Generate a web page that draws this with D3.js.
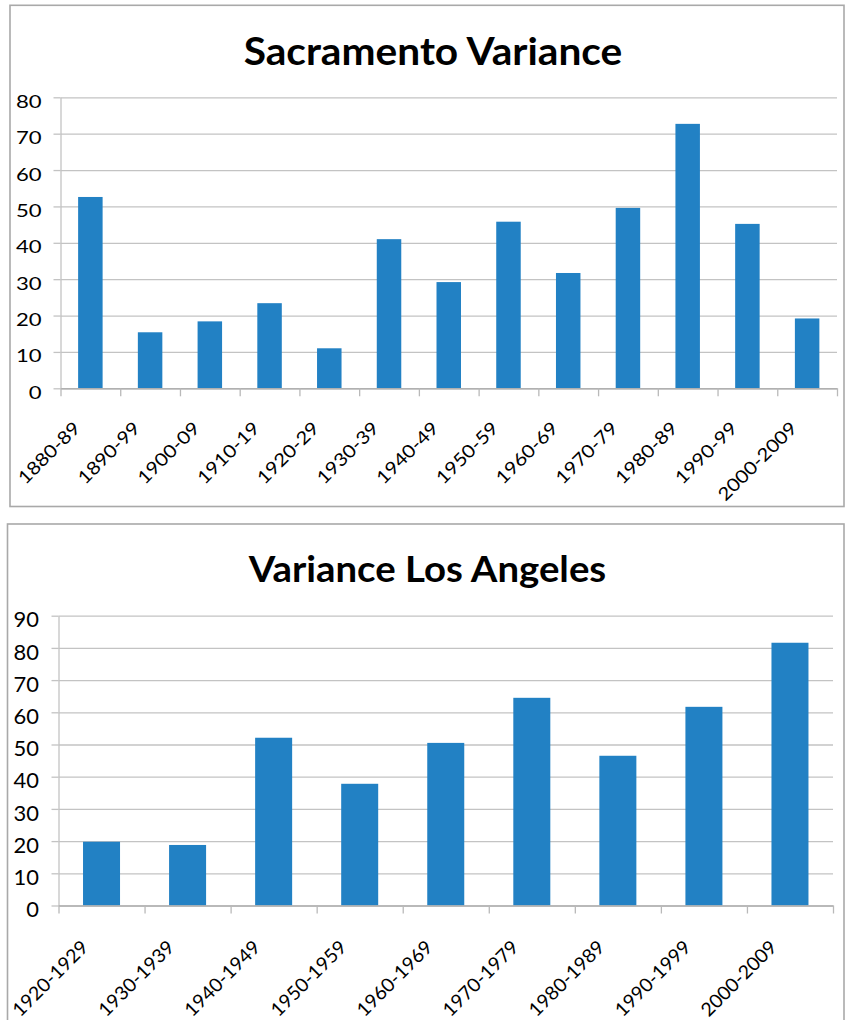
<!DOCTYPE html>
<html>
<head>
<meta charset="utf-8">
<script src="https://cdn.jsdelivr.net/npm/d3@7"></script>
<style>
	body { margin: 0; background: #fff; }
	svg { display: block; }
</style>
</head>
<body>
<div id="chart"></div>
<script>
/*global d3*/

//Sacramento data
var sacCategories = ["1880-89", "1890-99", "1900-09", "1910-19", "1920-29", "1930-39", "1940-49",
	"1950-59", "1960-69", "1970-79", "1980-89", "1990-99", "2000-2009"];
var sacValues = [52.6, 15.4, 18.4, 23.4, 11.0, 41.0, 29.2, 45.8, 31.7, 49.6, 72.7, 45.2, 19.2];
var sacTicks = [0, 10, 20, 30, 40, 50, 60, 70, 80];

//Los Angeles data
var laCategories = ["1920-1929", "1930-1939", "1940-1949", "1950-1959", "1960-1969",
	"1970-1979", "1980-1989", "1990-1999", "2000-2009"];
var laValues = [19.8, 18.8, 52.1, 37.8, 50.5, 64.5, 46.5, 61.7, 81.6];
var laTicks = [0, 10, 20, 30, 40, 50, 60, 70, 80, 90];

var barColor = "#2281c4";
var gridColor = "#c3c3c3";
var fontFamily = "Lato, 'Open Sans', sans-serif";

var svg = d3.select("#chart").append("svg")
	.attr("width", 845)
	.attr("height", 1020);

/**
 * Draws one excel-like column chart inside its own frame.
 * @param {Object} c - layout settings for one chart
 */
function drawChart(c){
	var g = svg.append("g");

	//frame
	g.append("rect")
		.attr("x", c.frame[0])
		.attr("y", c.frame[1])
		.attr("width", c.frame[2] - c.frame[0])
		.attr("height", c.frame[3] - c.frame[1])
		.attr("fill", "none")
		.attr("stroke", "#a9a9a9")
		.attr("stroke-width", 1.6);

	//title
	g.append("text")
		.attr("transform", "translate(" + c.titleX + "," + c.titleY + ") scale(" + c.titleStretch + ",1)")
		.attr("text-anchor", "middle")
		.attr("font-family", fontFamily)
		.attr("font-weight", "bold")
		.attr("font-size", c.titleSize)
		.attr("fill", "#000")
		.text(c.title);

	var x = d3.scaleBand()
		.domain(c.categories)
		.range([c.left, c.right])
		.paddingInner(1 - c.barFrac)
		.paddingOuter((1 - c.barFrac) / 2);

	var y = d3.scaleLinear()
		.domain([0, c.yMax])
		.range([c.bottom, c.top]);

	//gridlines
	var grid = g.append("g")
		.attr("transform", "translate(" + c.left + ",0)")
		.call(d3.axisLeft(y).tickValues(c.ticks).tickSize(-(c.right - c.left)).tickFormat(""));
	grid.select(".domain").remove();
	grid.selectAll("line").attr("stroke", gridColor).attr("stroke-width", 1.3);

	//y axis with outside tick marks
	var yAxis = g.append("g")
		.attr("transform", "translate(" + c.left + ",0)")
		.call(d3.axisLeft(y).tickValues(c.ticks).tickSize(7).tickSizeOuter(0).tickFormat(d3.format("d")));
	yAxis.select(".domain").attr("stroke", gridColor).attr("stroke-width", 1.3);
	yAxis.selectAll("line").attr("stroke", gridColor).attr("stroke-width", 1.3);
	yAxis.attr("font-family", fontFamily).attr("font-size", c.tickSize);
	yAxis.selectAll("text")
		.attr("x", 0)
		.attr("dy", 0)
		.attr("fill", "#000")
		.attr("transform", "translate(" + (-c.tickGap) + "," + c.tickDy + ") scale(" + c.tickStretch + ",1)");

	//bars
	g.append("g").selectAll("rect")
		.data(c.values)
		.enter().append("rect")
		.attr("x", function(d, i){ return x(c.categories[i]); })
		.attr("y", function(d){ return y(d); })
		.attr("width", x.bandwidth())
		.attr("height", function(d){ return y(0) - y(d); })
		.attr("fill", barColor);

	//x axis line + tick marks on the category boundaries
	var edge = d3.scaleLinear().domain([0, c.categories.length]).range([c.left, c.right]);
	var xEdge = g.append("g")
		.attr("transform", "translate(0," + y(0) + ")")
		.call(d3.axisBottom(edge).tickValues(d3.range(c.categories.length + 1)).tickSize(8).tickSizeOuter(0).tickFormat(""));
	xEdge.select(".domain").attr("stroke", "#b0b0b0").attr("stroke-width", 1.4);
	xEdge.selectAll("line").attr("stroke", "#b9b9b9").attr("stroke-width", 1.3);

	//slanted category labels
	var xAxis = g.append("g")
		.attr("transform", "translate(0," + y(0) + ")")
		.call(d3.axisBottom(x).tickSize(0).tickPadding(0));
	xAxis.select(".domain").remove();
	xAxis.attr("font-family", fontFamily).attr("font-size", c.labelSize);
	xAxis.selectAll("text")
		.attr("y", 0)
		.attr("dy", 0)
		.attr("fill", "#000")
		.attr("text-anchor", "end")
		.attr("transform", "translate(" + c.labelDx + "," + c.labelDy + ") rotate(-45) scale(" + c.labelStretch + ",1)");
}

drawChart({
	frame: [10, 5.3, 844, 506.5],
	title: "Sacramento Variance",
	titleX: 433, titleY: 65, titleSize: 38, titleStretch: 1.07,
	categories: sacCategories, values: sacValues, ticks: sacTicks, yMax: 80,
	left: 60.5, right: 837, top: 97.3, bottom: 388.3,
	barFrac: 0.41,
	tickSize: 17, tickStretch: 1.3, tickGap: 19, tickDy: 10,
	labelSize: 18, labelStretch: 1.14, labelDx: -9, labelDy: 41
});

drawChart({
	frame: [7.5, 524, 844, 1030],
	title: "Variance Los Angeles",
	titleX: 427.5, titleY: 581.7, titleSize: 35.5, titleStretch: 1.08,
	categories: laCategories, values: laValues, ticks: laTicks, yMax: 90,
	left: 58.5, right: 833, top: 615.7, bottom: 905.5,
	barFrac: 0.43,
	tickSize: 20.5, tickStretch: 1.07, tickGap: 19.5, tickDy: 11.2,
	labelSize: 19, labelStretch: 1.03, labelDx: -12, labelDy: 43
});
</script>
</body>
</html>
